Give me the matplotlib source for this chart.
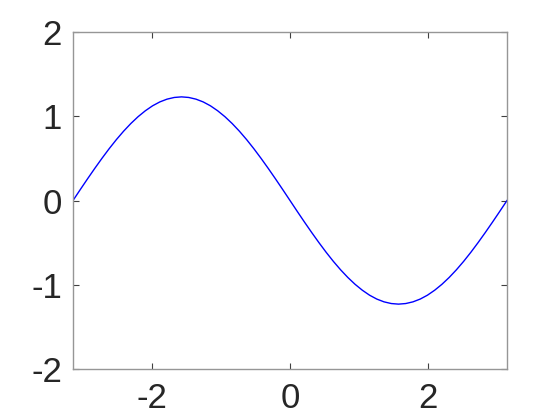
import numpy as np
import matplotlib
matplotlib.use("Agg")
import matplotlib.pyplot as plt

# Curve values, x from -pi to pi (61 samples)
y_vals = [0.000, 0.129, 0.256, 0.380, 0.500, 0.615, 0.723, 0.823, 0.914, 0.995,
          1.065, 1.124, 1.170, 1.203, 1.223, 1.230, 1.223, 1.203, 1.170, 1.124,
          1.065, 0.995, 0.914, 0.823, 0.723, 0.615, 0.500, 0.380, 0.256, 0.129,
          0.000, -0.129, -0.256, -0.380, -0.500, -0.615, -0.723, -0.823, -0.914, -0.995,
          -1.065, -1.124, -1.170, -1.203, -1.223, -1.230, -1.223, -1.203, -1.170, -1.124,
          -1.065, -0.995, -0.914, -0.823, -0.723, -0.615, -0.500, -0.380, -0.256, -0.129,
          0.000]
x_vals = np.linspace(-np.pi, np.pi, len(y_vals))

x_ticks = [-2, 0, 2]
y_ticks = [-2, -1, 0, 1, 2]

plt.rcParams['font.family'] = ['Liberation Sans', 'DejaVu Sans']

fig = plt.figure(figsize=(5.6, 4.2), dpi=100)
ax = fig.add_axes([73/560, 1 - 369/420, 434/560, 337/420])
ax.plot(x_vals, y_vals, color='#0000ff', lw=1.0)

ax.set_xlim(-np.pi, np.pi)
ax.set_ylim(-2, 2)
ax.set_xticks(x_ticks)
ax.set_yticks(y_ticks)
ax.set_xticklabels([str(v).replace('-', '-') for v in x_ticks])
ax.set_yticklabels([str(v) for v in y_ticks])

for s in ax.spines.values():
    s.set_color('#969696')
    s.set_linewidth(1.0)
ax.tick_params(direction='in', length=4, width=0.8, color='#404040',
               labelsize=25, labelcolor='#262626',
               top=True, right=True)
ax.tick_params(axis='x', pad=9)
ax.tick_params(axis='y', pad=8)

fig.savefig('out.png', dpi=100)
